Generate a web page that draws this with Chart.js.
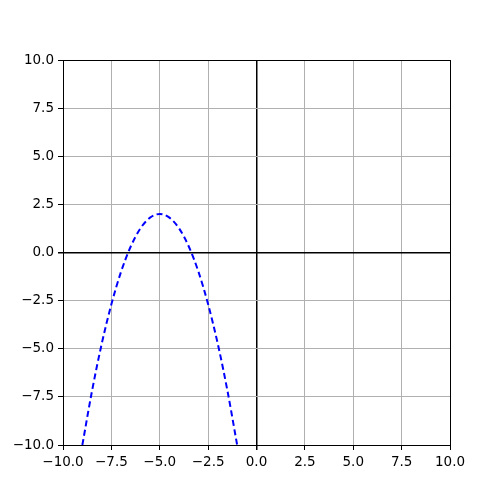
<!DOCTYPE html>
<html>
<head>
<meta charset="utf-8">
<script src="https://cdn.jsdelivr.net/npm/chart.js@4/dist/chart.umd.min.js"></script>
<style>
  html, body { margin: 0; padding: 0; background: #fff; }
</style>
</head>
<body>
<canvas id="plot" width="500" height="500"></canvas>
<script>
// values (parabola, vertex near (-5, 2))
var xValues = [-9, -8.5, -8, -7.5, -7, -6.5, -6, -5.5, -5, -4.5, -4, -3.5, -3, -2.5, -2, -1.5, -1];
var yValues = [-10, -7.19, -4.75, -2.69, -1, 0.31, 1.25, 1.81, 2, 1.81, 1.25, 0.31, -1, -2.69, -4.75, -7.19, -10];
var xTicks = [-10, -7.5, -5, -2.5, 0, 2.5, 5, 7.5, 10];
var yTicks = [-10, -7.5, -5, -2.5, 0, 2.5, 5, 7.5, 10];

var fmt = (v) => {
    var s = Number(v).toFixed(1);
    return s.replace('-', '\u2212');
};

var gridColor = (ctx) => {
    var v = ctx.tick ? ctx.tick.value : null;
    if (v === 0 || v === 10 || v === -10) return '#000000';
    return '#b0b0b0';
};

var gridWidth = (ctx) => {
    var v = ctx.tick ? ctx.tick.value : null;
    return v === 0 ? 1.5 : 1;
};

var ctx = document.getElementById('plot').getContext('2d');
var chart = new Chart(ctx, {
    type: 'line',
    data: {
        datasets: [{
            data: xValues.map((x, i) => ({ x: x, y: yValues[i] })),
            borderColor: '#0000ff',
            borderWidth: 2,
            borderDash: [6, 3.5],
            pointRadius: 0,
            fill: false,
            cubicInterpolationMode: 'monotone'
        }]
    },
    options: {
        responsive: false,
        animation: false,
        layout: { padding: { left: 0, right: 50, top: 60, bottom: 0 } },
        plugins: { legend: { display: false }, tooltip: { enabled: false } },
        scales: {
            x: {
                type: 'linear',
                min: -10,
                max: 10,
                afterFit: (scale) => { scale.height = 55; },
                afterBuildTicks: (scale) => { scale.ticks = xTicks.map(v => ({ value: v })); },
                border: { color: '#000000', width: 1 },
                grid: { color: gridColor, lineWidth: gridWidth, tickLength: 5, tickColor: '#000000' },
                ticks: {
                    color: '#000000',
                    padding: 4,
                    maxRotation: 0,
                    autoSkip: false,
                    font: { family: 'DejaVu Sans', size: 13.5 },
                    callback: (v) => fmt(v)
                }
            },
            y: {
                type: 'linear',
                min: -10,
                max: 10,
                afterFit: (scale) => { scale.width = 63; },
                afterBuildTicks: (scale) => { scale.ticks = yTicks.map(v => ({ value: v })); },
                border: { color: '#000000', width: 1 },
                grid: { color: gridColor, lineWidth: gridWidth, tickLength: 5, tickColor: '#000000' },
                ticks: {
                    color: '#000000',
                    padding: 4,
                    autoSkip: false,
                    font: { family: 'DejaVu Sans', size: 13.5 },
                    callback: (v) => fmt(v)
                }
            }
        }
    }
});
</script>
</body>
</html>
